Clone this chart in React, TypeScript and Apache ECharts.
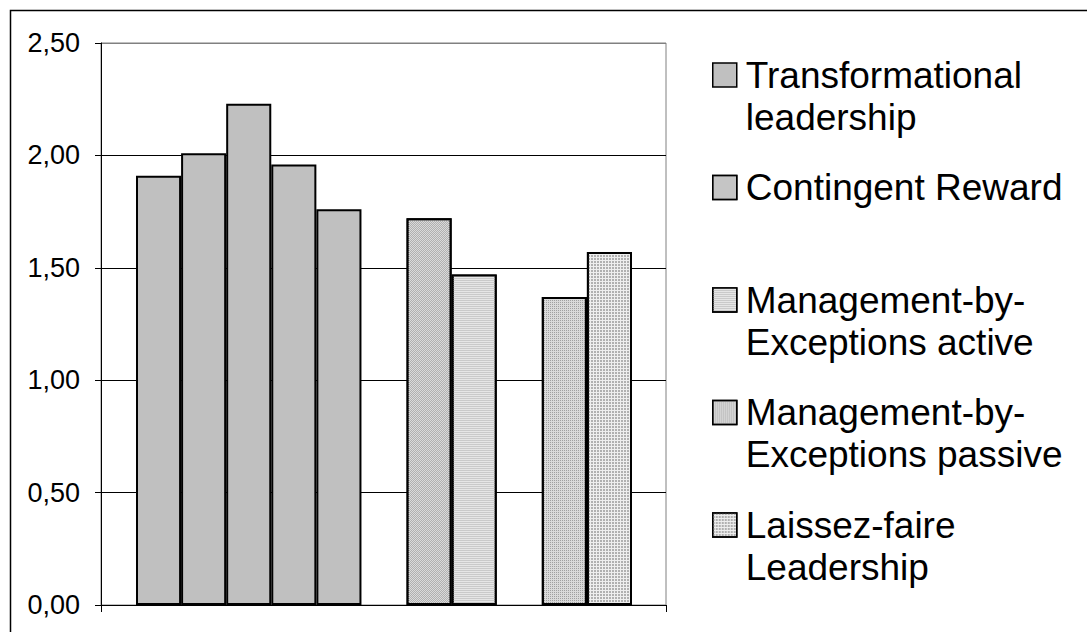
import { useEffect, useRef } from 'react';
import * as echarts from 'echarts';

// ---- data ----
const slotLabels = ['TL-1', 'TL-2', 'TL-3', 'TL-4', 'TL-5', 'gap-1', 'CR', 'MbE-a', 'gap-2', 'MbE-p', 'LF'];
const seriesNames = [
  'Transformational leadership',
  'Contingent Reward',
  'Management-by-Exceptions active',
  'Management-by-Exceptions passive',
  'Laissez-faire Leadership',
];
const legendLines = [
  ['Transformational', 'leadership'],
  ['Contingent Reward', ' '],
  ['Management-by-', 'Exceptions active'],
  ['Management-by-', 'Exceptions passive'],
  ['Laissez-faire', 'Leadership'],
];
const transformationalValues = [1.91, 2.01, 2.23, 1.96, 1.76];
const contingentRewardValues = [1.72];
const mbeActiveValues = [1.47];
const mbePassiveValues = [1.37];
const laissezFaireValues = [1.57];
const seriesValues = [transformationalValues, contingentRewardValues, mbeActiveValues, mbePassiveValues, laissezFaireValues];
const seriesSlotIndex = [[0, 1, 2, 3, 4], [6], [7], [9], [10]];
const yMin = 0;
const yMax = 2.5;
const yStep = 0.5;

// ---- styles ----
const FONT = '"Liberation Sans", Arial, Helvetica, sans-serif';
const fills = ['#c0c0c0', '#dadada', '#e6e6e6', '#dadada', '#eeeeee'];
const decals: any[] = [
  null,
  { symbol: 'rect', symbolSize: 1, dashArrayX: [[1, 1], [0, 1, 1, 0]], dashArrayY: [1, 0], color: '#b0b0b0' },
  { symbol: 'rect', symbolSize: 1, dashArrayX: [4, 0], dashArrayY: [1, 1], color: '#cacaca' },
  { symbol: 'rect', symbolSize: 1, dashArrayX: [1, 1], dashArrayY: [1, 1], color: '#a0a0a0' },
  { symbol: 'rect', symbolSize: 1, dashArrayX: [2, 1], dashArrayY: [2, 1], color: '#b0b0b0' },
];

function buildData(i: number) {
  const arr: any[] = slotLabels.map(() => '-');
  seriesSlotIndex[i].forEach((slot, k) => {
    arr[slot] = seriesValues[i][k];
  });
  return arr;
}

export default function App() {
  const ref = useRef<HTMLDivElement>(null);
  useEffect(() => {
    if (!ref.current) return;
    const chart = echarts.init(ref.current, null, { renderer: 'svg' });
    const option: any = {
      animation: false,
      backgroundColor: '#ffffff',
      textStyle: { fontFamily: FONT },
      graphic: [
        {
          type: 'rect',
          shape: { x: 10.5, y: 10.5, width: 1200, height: 800 },
          style: { fill: 'none', stroke: '#000', lineWidth: 1.5 },
          silent: true,
          z: -10,
        },
      ],
      grid: [
        { left: 101, top: 43, width: 565, height: 562, show: true, backgroundColor: '#fff', borderColor: '#808080', borderWidth: 1 },
        { left: 136, top: 43, width: 496, height: 562 },
      ],
      xAxis: [
        {
          type: 'category',
          gridIndex: 0,
          data: ['all'],
          boundaryGap: true,
          axisLine: { show: true, lineStyle: { color: '#000', width: 1 } },
          axisTick: { show: true, length: 7, lineStyle: { color: '#000' } },
          axisLabel: { show: false },
          splitLine: { show: false },
        },
        { type: 'category', gridIndex: 1, data: slotLabels, show: false },
      ],
      yAxis: [
        {
          type: 'value',
          gridIndex: 0,
          min: yMin,
          max: yMax,
          interval: yStep,
          axisLine: { show: true, lineStyle: { color: '#000', width: 1 } },
          axisTick: { show: true, length: 6, lineStyle: { color: '#000' } },
          axisLabel: {
            margin: 21,
            fontSize: 27,
            color: '#000',
            fontFamily: FONT,
            formatter: (v: number) => v.toFixed(2).replace('.', ','),
          },
          splitLine: { show: true, lineStyle: { color: ['#000', '#000', '#000', '#000', '#000', '#808080'], width: 1 } },
        },
        { type: 'value', gridIndex: 1, min: yMin, max: yMax, show: false },
      ],
      legend: {
        orient: 'vertical',
        left: 712,
        top: 12,
        padding: 0,
        itemWidth: 24,
        itemHeight: 24,
        itemGap: -13.5,
        icon: 'rect',
        selectedMode: false,
        itemStyle: { borderColor: '#000', borderWidth: 1.5 },
        textStyle: { fontSize: 37, lineHeight: 42, color: '#000', fontFamily: FONT, padding: [0, 0, 0, 4] },
        formatter: (name: string) => '\n' + legendLines[seriesNames.indexOf(name)].join('\n'),
        data: seriesNames,
      },
      series: seriesNames.map((name, i) => {
        const itemStyle: any = { color: fills[i], borderColor: '#000', borderWidth: 2 };
        if (decals[i]) itemStyle.decal = decals[i];
        return {
          type: 'bar',
          name,
          xAxisIndex: 1,
          yAxisIndex: 1,
          stack: 'one',
          barCategoryGap: '0%',
          data: buildData(i),
          itemStyle,
        };
      }),
    };
    chart.setOption(option);
    return () => chart.dispose();
  }, []);
  return <div ref={ref} style={{ position: 'absolute', left: 0, top: 0, width: 1087, height: 632 }} />;
}
